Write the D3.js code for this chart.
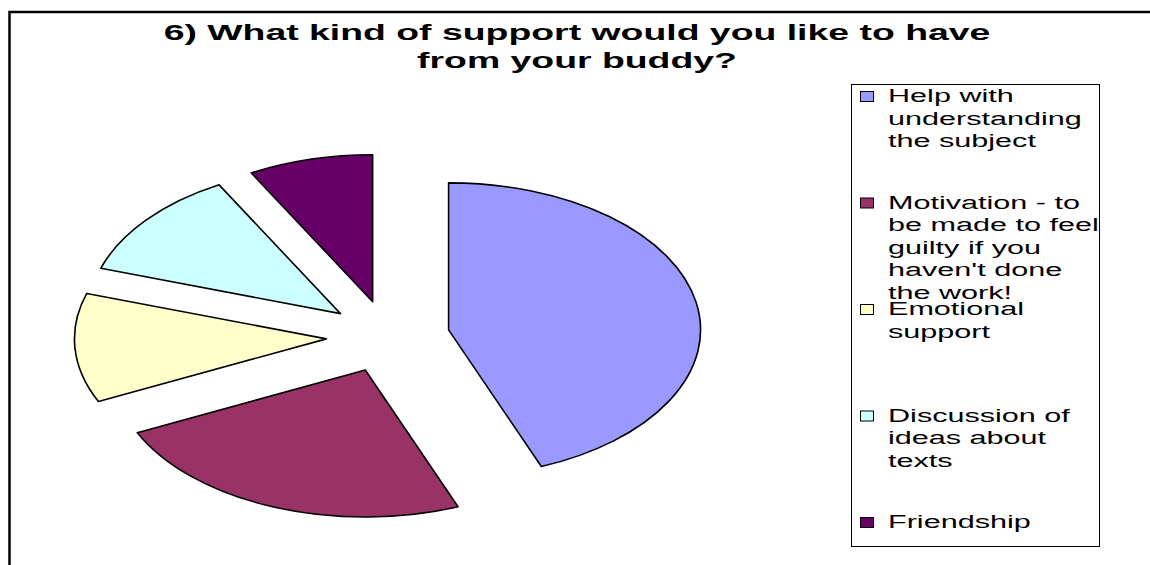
<!DOCTYPE html>
<html>
<head>
<meta charset="utf-8">
<script src="https://cdn.jsdelivr.net/npm/d3@7"></script>
<style>
  body { margin: 0; background: #fff; }
  text { font-family: "Liberation Sans", Arial, sans-serif; }
</style>
</head>
<body>
<script>
var categories = ["Help with understanding the subject",
                  "Motivation - to be made to feel guilty if you haven't done the work!",
                  "Emotional support",
                  "Discussion of ideas about texts",
                  "Friendship"];
var values = [11, 6, 3, 3, 2];
var colors = ["#9999FF", "#993366", "#FFFFCC", "#CCFFFF", "#660066"];
// wrapped legend labels, as they appear in the legend box
var legendLines = [
    ["Help with", "understanding", "the subject"],
    ["Motivation - to", "be made to feel", "guilty if you", "haven't done", "the work!"],
    ["Emotional", "support"],
    ["Discussion of", "ideas about", "texts"],
    ["Friendship"]
];
var titleLines = ["6) What kind of support would you like to have", "from your buddy?"];

var w = 1150, h = 565;
// the original picture is stretched sideways, so everything gets an x-scale
var stretch = 1.714;

var svg = d3.select("body").append("svg")
    .attr("width", w)
    .attr("height", h);

// chart frame (right and bottom run off the picture)
svg.append("rect")
    .attr("x", 9.5).attr("y", 12)
    .attr("width", 1300).attr("height", 700)
    .attr("fill", "none")
    .attr("stroke", "#000")
    .attr("stroke-width", 2.5);

// title
svg.selectAll(".title")
    .data(titleLines)
    .enter().append("text")
    .attr("class", "title")
    .attr("transform", function(d, i) { return "translate(577," + (40 + i * 28) + ") scale(1.7,1)"; })
    .attr("text-anchor", "middle")
    .attr("font-size", 22)
    .attr("font-weight", "bold")
    .text(function(d) { return d; });

// exploded pie
var radius = 147, explode = 36;
var cx = 388, cy = 336.6;

var pie = d3.pie().sort(null).value(function(d) { return d; });
var arc = d3.arc().innerRadius(0).outerRadius(radius);
var offset = d3.arc().innerRadius(explode).outerRadius(explode);

var pieG = svg.append("g")
    .attr("transform", "translate(" + cx + "," + cy + ") scale(" + stretch + ",1)");

pieG.selectAll(".slice")
    .data(pie(values))
    .enter().append("path")
    .attr("class", "slice")
    .attr("transform", function(d) { return "translate(" + offset.centroid(d) + ")"; })
    .attr("d", arc)
    .attr("fill", function(d, i) { return colors[i]; })
    .attr("stroke", "#000")
    .attr("stroke-width", 1.6)
    .attr("stroke-linejoin", "round")
    .attr("vector-effect", "non-scaling-stroke");

// legend
var legend = svg.append("g");
legend.append("rect")
    .attr("x", 851.5).attr("y", 84.5)
    .attr("width", 248).attr("height", 462)
    .attr("fill", "#fff")
    .attr("stroke", "#000")
    .attr("stroke-width", 1);

var itemY = d3.scaleLinear().domain([0, 4]).range([102, 528]);

var items = legend.selectAll(".item")
    .data(categories)
    .enter().append("g")
    .attr("class", "item");

items.append("rect")
    .attr("x", 860.5)
    .attr("y", function(d, i) { return itemY(i) - 10.5; })
    .attr("width", 13).attr("height", 10)
    .attr("fill", function(d, i) { return colors[i]; })
    .attr("stroke", "#000")
    .attr("stroke-width", 1);

items.each(function(d, i) {
    d3.select(this).selectAll("text")
        .data(legendLines[i])
        .enter().append("text")
        .attr("transform", function(t, j) { return "translate(888," + (itemY(i) + j * 22.5) + ") scale(1.61,1)"; })
        .attr("font-size", 19)
        .attr("fill", "#000")
        .text(function(t) { return t; });
});
</script>
</body>
</html>
